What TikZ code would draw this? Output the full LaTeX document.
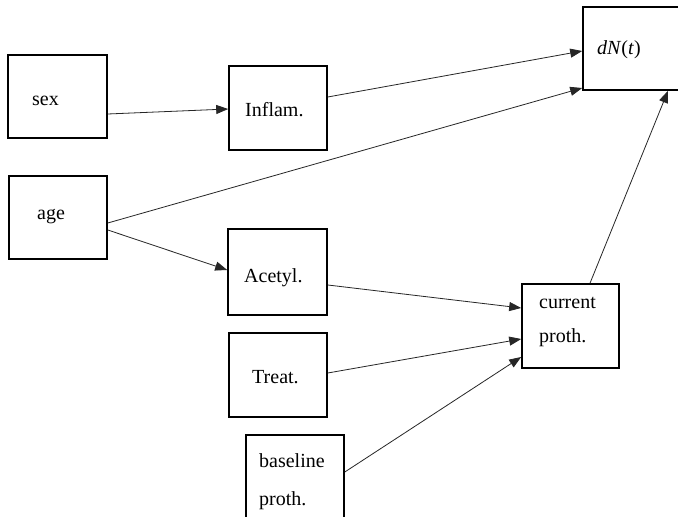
\documentclass[tikz,border=0pt]{standalone}
\usepackage{fontspec}
\setmainfont{Liberation Serif}
\usetikzlibrary{arrows.meta}
\begin{document}
\begin{tikzpicture}[x=1pt,y=1pt,
  box/.style={draw=black,line width=1.6pt,rectangle,inner sep=0pt,minimum width=98pt,minimum height=84pt},
  lbl/.style={anchor=base west,inner sep=0pt,font=\fontsize{20}{24}\selectfont},
  conn/.style={draw=black!85,line width=0.8pt,-{Triangle[length=12pt,width=9pt]}}]
\clip (0,0) rectangle (678,517);
\fill[white] (0,0) rectangle (678,517);
% boxes
\node[box,minimum width=99pt,minimum height=83pt] (sex) at (57.5,420.5) {};
\node[box] (inflam) at (278,409) {};
\node[box,minimum width=120pt,minimum height=83pt] (dN) at (643,468.5) {};
\node[box,minimum height=83pt] (age) at (58,299.5) {};
\node[box,minimum width=99pt,minimum height=86pt] (acetyl) at (277.5,245) {};
\node[box] (treat) at (278,142) {};
\node[box] (baseline) at (295,40) {};
\node[box,minimum width=97pt] (current) at (570.5,191) {};
% labels
\node[lbl] (tsex) at (32,411) {sex};
\node[lbl] (tinflam) at (245,400) {Inflam.};
\node[lbl] (tdN) at (597,462) {\textit{dN}(\textit{t})};
\node[lbl] (tage) at (37,297) {age};
\node[lbl] (tacetyl) at (244,234) {Acetyl.};
\node[lbl] (ttreat) at (252,133) {Treat.};
\node[lbl] (tbase1) at (259,49) {baseline};
\node[lbl] (tbase2) at (259,11) {proth.};
\node[lbl] (tcur1) at (539,208) {current};
\node[lbl] (tcur2) at (539,174) {proth.};
% connectors
\draw[conn] ([yshift=-17.5pt]sex.east) -- ([yshift=-1pt]inflam.west);
\draw[conn] ([yshift=11pt]inflam.east) -- ([yshift=-2.5pt]dN.west);
\draw[conn] ([yshift=-5.5pt]age.east) -- ([yshift=-39.5pt]dN.west);
\draw[conn] ([yshift=-12.5pt]age.east) -- ([yshift=2pt]acetyl.west);
\draw[conn] ([yshift=-13pt]acetyl.east) -- ([yshift=18pt]current.west);
\draw[conn] ([yshift=2pt]treat.east) -- ([yshift=-13pt]current.west);
\draw[conn] ([yshift=5pt]baseline.east) -- ([yshift=-31pt]current.west);
\draw[conn] ([xshift=19.5pt]current.north) -- ([xshift=25pt]dN.south);
\end{tikzpicture}
\end{document}
